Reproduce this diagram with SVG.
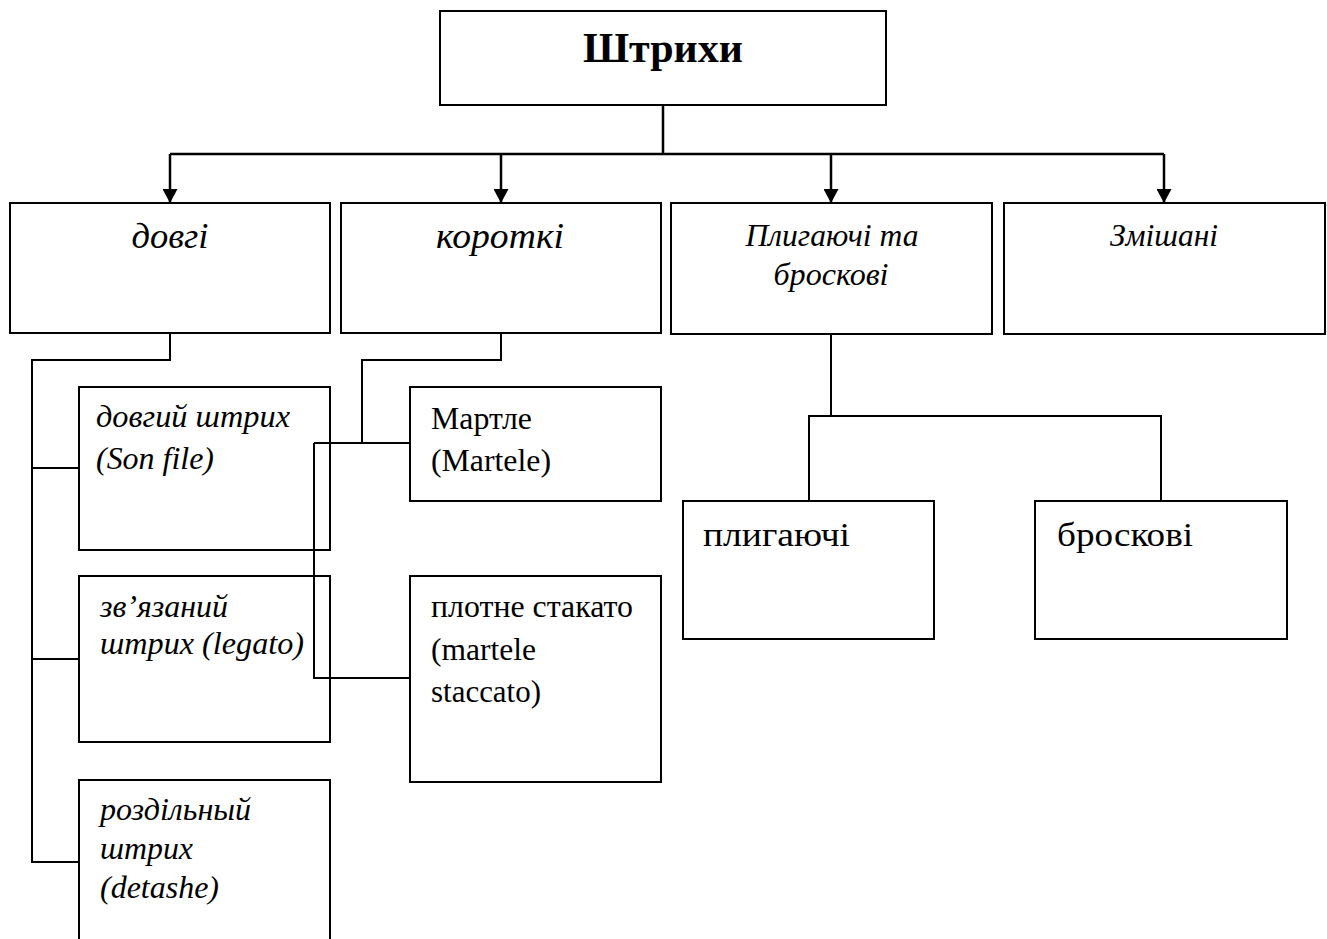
<svg xmlns="http://www.w3.org/2000/svg" width="1327" height="939" viewBox="0 0 1327 939">
<style>
text{font-family:"Liberation Serif","Times New Roman",serif;fill:#000}
.box{fill:none;stroke:#000;stroke-width:2}
.c{fill:none;stroke:#000;stroke-width:2}
.a{fill:none;stroke:#000;stroke-width:2.5}
.t1{font-size:42px;font-weight:bold}
.t2{font-size:35px;font-style:italic}
.t3{font-size:32px;font-style:italic}
.t4{font-size:31.5px}
.t5{font-size:34px}
</style>
<defs>
<marker id="arr" markerUnits="userSpaceOnUse" markerWidth="14" markerHeight="15" refX="14" refY="7.5" orient="auto" viewBox="0 0 14 15">
<path d="M0,0 L14,7.5 L0,15 z" fill="#000"/>
</marker>
</defs>
<rect width="1327" height="939" fill="#fff"/>
<g id="n-root"><rect class="box" x="440" y="11" width="446" height="94"/><text class="t1" x="663" y="62" text-anchor="middle">Штрихи</text></g>
<g id="n-dovhi"><rect class="box" x="10" y="203" width="320" height="130"/><text class="t2" x="170" y="248" text-anchor="middle" textLength="77" lengthAdjust="spacingAndGlyphs">довгі</text></g>
<g id="n-korotki"><rect class="box" x="341" y="203" width="320" height="130"/><text class="t2" x="500" y="248" text-anchor="middle" textLength="128" lengthAdjust="spacingAndGlyphs">короткі</text></g>
<g id="n-plyh-brosk"><rect class="box" x="671" y="203" width="321" height="131"/><text class="t3" x="832" y="246" text-anchor="middle" textLength="173" lengthAdjust="spacingAndGlyphs">Плигаючі та</text><text class="t3" x="831" y="285" text-anchor="middle" textLength="115" lengthAdjust="spacingAndGlyphs">броскові</text></g>
<g id="n-zmishani"><rect class="box" x="1004" y="203" width="321" height="131"/><text class="t3" x="1164" y="246" text-anchor="middle" textLength="108" lengthAdjust="spacingAndGlyphs">Змішані</text></g>
<g id="n-son-file"><rect class="box" x="79" y="387" width="251" height="163"/><text class="t3" x="96" y="427" textLength="194" lengthAdjust="spacingAndGlyphs">довгий штрих</text><text class="t3" x="96" y="469" textLength="118" lengthAdjust="spacingAndGlyphs">(Son file)</text></g>
<g id="n-legato"><rect class="box" x="79" y="576" width="251" height="166"/><text class="t3" x="100" y="617" textLength="128" lengthAdjust="spacingAndGlyphs">зв’язаний</text><text class="t3" x="100" y="654" textLength="204" lengthAdjust="spacingAndGlyphs">штрих (legato)</text></g>
<g id="n-detashe"><rect class="box" x="79" y="780" width="251" height="170"/><text class="t3" x="100" y="820" textLength="151" lengthAdjust="spacingAndGlyphs">роздільный</text><text class="t3" x="100" y="859" textLength="93" lengthAdjust="spacingAndGlyphs">штрих</text><text class="t3" x="100" y="898" textLength="119" lengthAdjust="spacingAndGlyphs">(detashe)</text></g>
<g id="n-martle"><rect class="box" x="410" y="387" width="251" height="114"/><text class="t4" x="431" y="429" textLength="101" lengthAdjust="spacingAndGlyphs">Мартле</text><text class="t4" x="431" y="471" textLength="120" lengthAdjust="spacingAndGlyphs">(Martele)</text></g>
<g id="n-staccato"><rect class="box" x="410" y="576" width="251" height="206"/><text class="t4" x="431" y="617" textLength="202" lengthAdjust="spacingAndGlyphs">плотне стакато</text><text class="t4" x="431" y="660" textLength="105" lengthAdjust="spacingAndGlyphs">(martele</text><text class="t4" x="431" y="702" textLength="110" lengthAdjust="spacingAndGlyphs">staccato)</text></g>
<g id="n-plyh"><rect class="box" x="683" y="501" width="251" height="138"/><text class="t5" x="703" y="546" textLength="147" lengthAdjust="spacingAndGlyphs">плигаючі</text></g>
<g id="n-brosk"><rect class="box" x="1035" y="501" width="252" height="138"/><text class="t5" x="1057" y="546" textLength="136" lengthAdjust="spacingAndGlyphs">броскові</text></g>
<g id="connectors">
<path class="a" d="M663,105 V154 M170,154 H1164"/>
<path class="a" d="M170,154 V203" marker-end="url(#arr)"/>
<path class="a" d="M501,154 V203" marker-end="url(#arr)"/>
<path class="a" d="M831,154 V203" marker-end="url(#arr)"/>
<path class="a" d="M1164,154 V203" marker-end="url(#arr)"/>
<path class="c" d="M170,333 V360 H32 V862 H79 M32,468 H79 M32,659 H79"/>
<path class="c" d="M501,333 V360 H362 V443 H410 M314,443 H362 M314,443 V678 H410"/>
<path class="c" d="M831,334 V416 M809,501 V416 H1161 V501"/>
</g>
</svg>
